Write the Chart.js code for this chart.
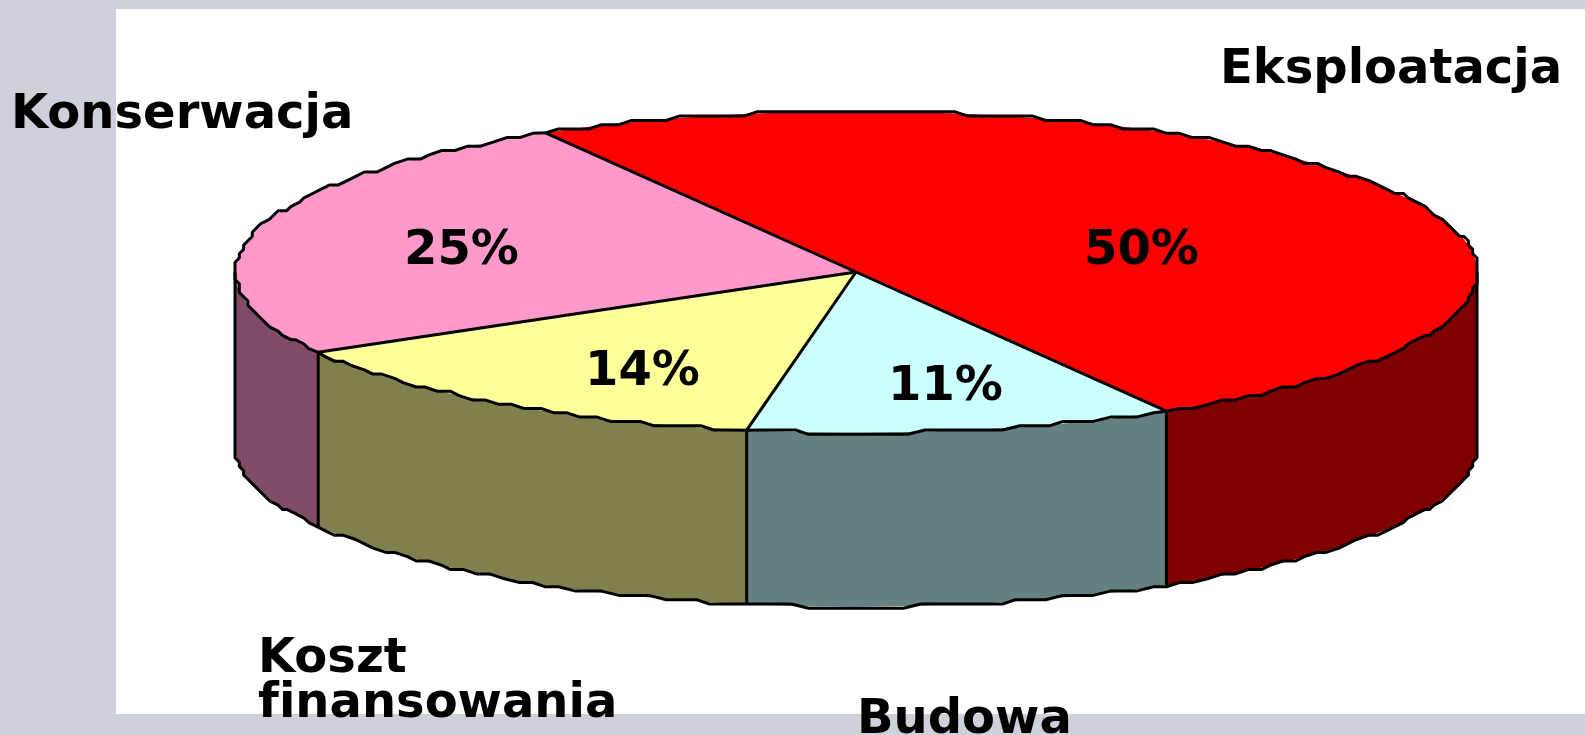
<!DOCTYPE html>
<html>
<head>
<meta charset="utf-8">
<title>Koszty</title>
<script src="https://cdn.jsdelivr.net/npm/chart.js@4/dist/chart.umd.min.js"></script>
<style>
  html, body { margin: 0; padding: 0; background: #ced1da; overflow: hidden; }
  canvas { display: block; }
</style>
</head>
<body>
<canvas id="cost-chart" width="1585" height="735"></canvas>
<script>
const categories = ["Eksploatacja", "Budowa", "Koszt finansowania", "Konserwacja"];
// slices, the printed labels are these rounded
const shares = [50, 11.15, 13.85, 25];
const topColors = ["#ff0000", "#ccffff", "#ffff99", "#ff99cc"];
const wallColors = ["#800000", "#668080", "#80804e", "#804d66"];

// where the texts sit, in page pixels
const categoryLabels = [
  { lines: ["Eksploatacja"], x: 1220, y: 83 },
  { lines: ["Budowa"], x: 857, y: 733 },
  { lines: ["Koszt", "f\u200Cinansowania"], x: 258, y: 672 },
  { lines: ["Konserwacja"], x: 11, y: 128 },
];
const shareLabels = [
  { x: 1084, y: 264 },
  { x: 888, y: 400 },
  { x: 585, y: 385 },
  { x: 404, y: 264 },
];

const RX = 621;
const RY = 160.7;
const DEPTH = 174;
const STEP_X = RX / 144;
const STEP_Y = 4.3;
const FONT = "bold 48px 'DejaVu Sans'";

// rim of the ellipse on a coarse grid, the outline in the picture is stepped like that
function edgePoints(c, from, to, dy) {
  const pts = [];
  const n = Math.max(2, Math.ceil(Math.abs(to - from) / (Math.PI / 120)));
  for (let i = 0; i <= n; i++) {
    const a = from + ((to - from) * i) / n;
    const x = RX * Math.cos(a);
    const y = c.y + RY * Math.sin(a);
    if (i === 0 || i === n) {
      pts.push([c.x + x, y + dy]);
    } else {
      pts.push([c.x + Math.round(x / STEP_X) * STEP_X, Math.round(y / STEP_Y) * STEP_Y + dy]);
    }
  }
  return pts;
}

function strokePoints(ctx, pts) {
  ctx.beginPath();
  pts.forEach((p, i) => (i ? ctx.lineTo(p[0], p[1]) : ctx.moveTo(p[0], p[1])));
  ctx.stroke();
}

const backgroundPlugin = {
  id: "background",
  beforeDraw(chart) {
    const ctx = chart.ctx;
    ctx.save();
    ctx.fillStyle = "#ced1da";
    ctx.fillRect(0, 0, chart.width, chart.height);
    ctx.fillStyle = "#ffffff";
    ctx.fillRect(116, 9, chart.width - 116, 705);
    ctx.restore();
  },
};

// squashes the library's pie into an ellipse and stacks darker copies under it
const tiltPlugin = {
  id: "tilt",
  beforeDatasetsDraw(chart) {
    const ctx = chart.ctx;
    const arcs = chart.getDatasetMeta(0).data;
    const first = arcs[0];
    const sx = RX / first.outerRadius;
    const sy = RY / first.outerRadius;

    ctx.save();
    for (let d = DEPTH; d > 0; d--) {
      ctx.save();
      ctx.translate(first.x, first.y + d);
      ctx.scale(sx, sy);
      ctx.translate(-first.x, -first.y);
      arcs.forEach((arc, i) => {
        const keep = arc.options;
        arc.options = { ...keep, backgroundColor: wallColors[i] };
        arc.draw(ctx);
        arc.options = keep;
      });
      ctx.restore();
    }
    ctx.translate(first.x, first.y);
    ctx.scale(sx, sy);
    ctx.translate(-first.x, -first.y);
  },
  afterDatasetsDraw(chart) {
    const ctx = chart.ctx;
    ctx.restore();

    const arcs = chart.getDatasetMeta(0).data;
    const c = arcs[0];
    ctx.save();
    ctx.strokeStyle = "#000000";
    ctx.lineWidth = 3;
    ctx.lineJoin = "round";

    // outer rim, top and bottom
    arcs.forEach((arc) => strokePoints(ctx, edgePoints(c, arc.startAngle, arc.endAngle, 0)));
    strokePoints(ctx, edgePoints(c, 0, Math.PI, DEPTH));

    // wall edges at both ends of the rim
    [0, Math.PI].forEach((a) => {
      const x = c.x + RX * Math.cos(a);
      strokePoints(ctx, [[x, c.y], [x, c.y + DEPTH]]);
    });

    arcs.forEach((arc) => {
      const a = arc.startAngle;
      const x = c.x + RX * Math.cos(a);
      const y = c.y + RY * Math.sin(a);
      strokePoints(ctx, [[c.x, c.y], [x, y]]);
      if (Math.sin(a) > 0) {
        strokePoints(ctx, [[x, y], [x, y + DEPTH]]);
      }
    });

    // texts
    ctx.fillStyle = "#000000";
    ctx.font = FONT;
    ctx.textAlign = "left";
    ctx.textBaseline = "alphabetic";
    shares.forEach((v, i) => {
      ctx.fillText(Math.round(v) + "%", shareLabels[i].x, shareLabels[i].y);
    });
    categoryLabels.forEach((label) => {
      label.lines.forEach((line, j) => {
        ctx.fillText(line, label.x, label.y + j * 45);
      });
    });
    ctx.restore();
  },
};

new Chart(document.getElementById("cost-chart"), {
  type: "pie",
  data: {
    labels: categories,
    datasets: [
      {
        data: shares,
        backgroundColor: topColors,
        borderWidth: 0,
        clip: false,
      },
    ],
  },
  options: {
    responsive: false,
    animation: false,
    events: [],
    rotation: -30,
    layout: { padding: { left: 127, right: 0, top: 0, bottom: 191 } },
    plugins: {
      legend: { display: false },
      title: { display: false },
      tooltip: { enabled: false },
    },
  },
  plugins: [backgroundPlugin, tiltPlugin],
});
</script>
</body>
</html>
